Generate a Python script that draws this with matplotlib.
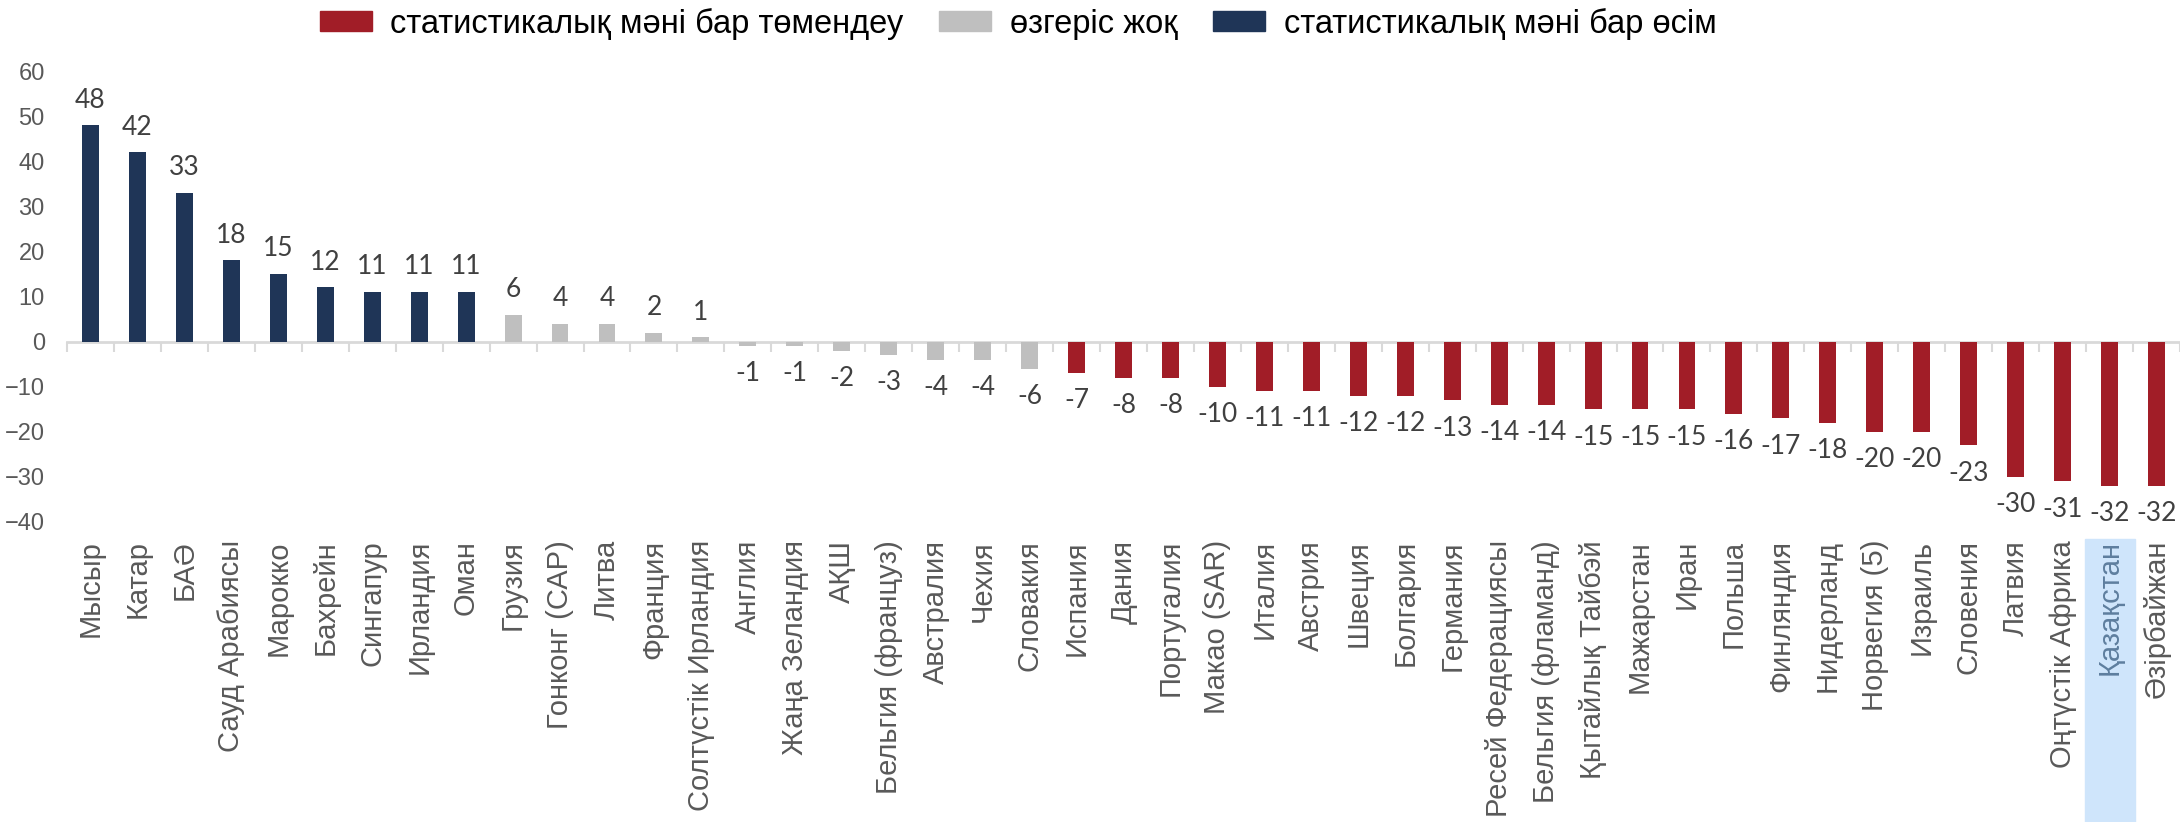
import matplotlib.pyplot as plt
from matplotlib.patches import Patch, Rectangle

categories = ["Мысыр", "Катар", "БАӘ", "Сауд Арабиясы", "Марокко", "Бахрейн",
              "Сингапур", "Ирландия", "Оман", "Грузия", "Гонконг (САР)", "Литва",
              "Франция", "Солтүстік Ирландия", "Англия", "Жаңа Зеландия", "АҚШ",
              "Бельгия (француз)", "Австралия", "Чехия", "Словакия", "Испания",
              "Дания", "Португалия", "Макао (SAR)", "Италия", "Австрия", "Швеция",
              "Болгария", "Германия", "Ресей Федерациясы", "Бельгия (фламанд)",
              "Қытайлық Тайбэй", "Мажарстан", "Иран", "Польша", "Финляндия",
              "Нидерланд", "Норвегия (5)", "Израиль", "Словения", "Латвия",
              "Оңтүстік Африка", "Қазақстан", "Әзірбайжан"]
values = [48, 42, 33, 18, 15, 12, 11, 11, 11, 6, 4, 4, 2, 1, -1, -1, -2, -3, -4, -4,
          -6, -7, -8, -8, -10, -11, -11, -12, -12, -13, -14, -14, -15, -15, -15,
          -16, -17, -18, -20, -20, -23, -30, -31, -32, -32]
# 'up' = significant increase, 'none' = no change, 'down' = significant decrease
status = ["up"] * 9 + ["none"] * 12 + ["down"] * 24
legend_labels = {"down": "статистикалық мәні бар төмендеу",
                 "none": "өзгеріс жоқ",
                 "up": "статистикалық мәні бар өсім"}
highlight = "Қазақстан"

colors = {"up": "#1F3557", "none": "#BFBFBF", "down": "#A11D27"}

fig = plt.figure(figsize=(21.8, 8.22), dpi=100)
ax = fig.add_axes([67 / 2180, 1 - 522 / 822, 1 - 67 / 2180, (522 - 71) / 822])

x = list(range(len(categories)))
ax.bar(x, values, width=0.36, color=[colors[s] for s in status], zorder=2)

for xi, v in zip(x, values):
    if v >= 0:
        ax.annotate(str(v), (xi, v), xytext=(0, 9), textcoords="offset points",
                    ha="center", va="bottom", fontsize=19, family="Lato",
                    color="#404040")
    else:
        ax.annotate(str(v), (xi, v), xytext=(0, -11), textcoords="offset points",
                    ha="center", va="top", fontsize=19, family="Lato",
                    color="#404040")

ax.set_xlim(-0.5, len(categories) - 0.5)
ax.set_ylim(-40, 60)
ax.set_yticks(range(-40, 61, 10))
ax.tick_params(axis="y", length=0, pad=16, labelsize=17, labelcolor="#595959")
for lab in ax.get_yticklabels():
    lab.set_family("Liberation Sans")

ax.set_xticks(x)
ax.set_xticklabels(categories, rotation=90, fontsize=21, family="Liberation Sans",
                   color="#595959")
ax.tick_params(axis="x", length=0, pad=13)
for lab in ax.get_xticklabels():
    if lab.get_text() == highlight:
        lab.set_color("#5E7E9E")

for sp in ax.spines.values():
    sp.set_visible(False)

# zero line with category boundary ticks
zero = ax.secondary_xaxis(0.4)
zero.set_xticks([i - 0.5 for i in range(len(categories) + 1)])
zero.set_xticklabels([])
zero.tick_params(length=7, width=1.5, color="#D9D9D9", direction="out")
zero.spines["bottom"].set_color("#D9D9D9")
zero.spines["bottom"].set_linewidth(2)

# highlight box behind Kazakhstan label
hx = ax.transData.transform((categories.index(highlight), 0))[0] / fig.bbox.width
fig.patches.append(Rectangle((hx - 25 / 2180, 0), 50 / 2180, 1 - 539 / 822,
                             transform=fig.transFigure, color="#CFE5FB", zorder=-1))

handles = [Patch(color=colors[k], label=legend_labels[k]) for k in ["down", "none", "up"]]
fig.legend(handles=handles, loc="center", bbox_to_anchor=(1018 / 2180, 1 - 24 / 822),
           ncol=3, frameon=False, prop={"family": "Liberation Sans", "size": 23.5},
           handlelength=1.6, handleheight=0.56, handletextpad=0.56, columnspacing=1.1)

fig.savefig("out.png", dpi=100)
